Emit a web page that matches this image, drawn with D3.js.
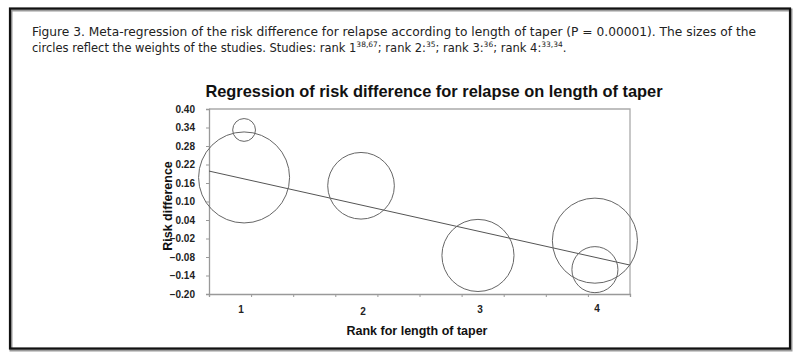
<!DOCTYPE html>
<html><head><meta charset="utf-8">
<script src="https://cdn.jsdelivr.net/npm/d3@7"></script>
<style>
html,body{margin:0;padding:0;background:#fff;}
svg{display:block;}
</style></head>
<body>
<svg id="chart" width="800" height="359"></svg>
<script>
// ---- data ----
const captionLine1 = "Figure 3. Meta-regression of the risk difference for relapse according to length of taper (P = 0.00001). The sizes of the";
const captionLine2 = [["circles reflect the weights of the studies. Studies: rank 1",""],["38,67","sup"],["; rank 2:",""],["35","sup"],["; rank 3:",""],["36","sup"],["; rank 4:",""],["33,34","sup"],[".",""]];
const chartTitle = "Regression of risk difference for relapse on length of taper";
const xTitle = "Rank for length of taper";
const yTitle = "Risk difference";
const studyRank = [1, 1, 2, 3, 4, 4];
const studyRD = [0.178, 0.332, 0.151, -0.075, -0.027, -0.121];
const studyWeight = [20.7, 1.3, 11.1, 13.0, 18.1, 5.3];
const yTicks = [0.40, 0.34, 0.28, 0.22, 0.16, 0.10, 0.04, -0.02, -0.08, -0.14, -0.20];
const xLabels = [1, 2, 3, 4];
const xDomain = [0.7, 4.3];
const regIntercept = 0.258;
const regSlope = -0.0847;

// ---- layout ----
const svg = d3.select("#chart");
const L = 209, R = 630, T = 109, B = 294;
const x = d3.scaleLinear().domain(xDomain).range([L, R]);
const y = d3.scaleLinear().domain([-0.20, 0.40]).range([B, T]);
const r = d3.scaleSqrt().domain([0, 1]).range([0, 10]);

// outer frame
svg.append("rect").attr("x", 11).attr("y", 10).attr("width", 780).attr("height", 340)
  .attr("fill", "none").attr("stroke", "#9a9a9a").attr("stroke-width", 3);
svg.append("rect").attr("x", 10).attr("y", 8.5).attr("width", 780).attr("height", 340)
  .attr("fill", "none").attr("stroke", "#111").attr("stroke-width", 2.2);

// caption
const cap = svg.append("g").attr("font-family", "DejaVu Sans").attr("font-size", 11.5).attr("fill", "#222");
cap.append("text").attr("x", 32).attr("y", 36).text(captionLine1)
  .attr("textLength", 724).attr("lengthAdjust", "spacingAndGlyphs");
const t2 = cap.append("text").attr("x", 32).attr("y", 52);
captionLine2.forEach(([s, k]) => {
  const ts = t2.append("tspan").text(s);
  if (k === "sup") ts.attr("font-size", 7.5).attr("dy", -5);
  else ts.attr("dy", t2.selectAll("tspan").size() > 1 ? 5 : 0);
});

// title
svg.append("text").attr("x", 434).attr("y", 97).attr("text-anchor", "middle")
  .attr("font-family", "Liberation Sans, Arial").attr("font-weight", "bold").attr("font-size", 16.4)
  .attr("fill", "#111").text(chartTitle);

// plot border (top & right)
svg.append("path").attr("d", `M${L},${T}H${R}V${B}`).attr("fill", "none").attr("stroke", "#aaa").attr("stroke-width", 1.3);

// y axis
const yAxis = svg.append("g").attr("transform", `translate(${L},0)`)
  .call(d3.axisLeft(y).tickValues(yTicks).tickSize(3).tickPadding(11).tickFormat(d3.format(".2f")));
yAxis.select(".domain").attr("stroke", "#999").attr("stroke-width", 1.3);
yAxis.selectAll(".tick line").attr("stroke", "#999");
yAxis.selectAll("text").attr("font-family", "Liberation Sans, Arial").attr("font-weight", "bold").attr("font-size", 10).attr("fill", "#222");

// x axis
const xTickVals = d3.range(11).map(i => xDomain[0] + i * (xDomain[1] - xDomain[0]) / 10);
const xAxis = svg.append("g").attr("transform", `translate(0,${B})`)
  .call(d3.axisBottom(x).tickValues(xTickVals).tickSize(3).tickFormat(""));
xAxis.select(".domain").attr("stroke", "#999").attr("stroke-width", 1.3);
xAxis.selectAll(".tick line").attr("stroke", "#999");
svg.append("g").selectAll("text").data(xLabels).join("text")
  .attr("x", d => x(d) + (d === 1 ? -3 : 2)).attr("y", d => (d === 2 ? 315 : d === 4 ? 312 : 313)).attr("text-anchor", "middle")
  .attr("font-family", "Liberation Sans, Arial").attr("font-weight", "bold").attr("font-size", 10).attr("fill", "#222")
  .text(d => d);

// axis titles
svg.append("text").attr("x", 417).attr("y", 335).attr("text-anchor", "middle")
  .attr("font-family", "Liberation Sans, Arial").attr("font-weight", "bold").attr("font-size", 12.5).attr("fill", "#111").text(xTitle);
svg.append("text").attr("transform", "translate(172,206) rotate(-90)").attr("text-anchor", "middle")
  .attr("font-family", "Liberation Sans, Arial").attr("font-weight", "bold").attr("font-size", 12.5).attr("fill", "#111").text(yTitle);

// regression line
svg.append("line")
  .attr("x1", x(xDomain[0])).attr("y1", y(regIntercept + regSlope * xDomain[0]))
  .attr("x2", x(xDomain[1])).attr("y2", y(regIntercept + regSlope * xDomain[1]))
  .attr("stroke", "#555").attr("stroke-width", 1);

// study circles
svg.append("g").selectAll("circle").data(studyRank.map((k, i) => ({k, v: studyRD[i], w: studyWeight[i]})))
  .join("circle")
  .attr("cx", d => x(d.k)).attr("cy", d => y(d.v)).attr("r", d => r(d.w))
  .attr("fill", "none").attr("stroke", "#666").attr("stroke-width", 1);
</script>
</body></html>
